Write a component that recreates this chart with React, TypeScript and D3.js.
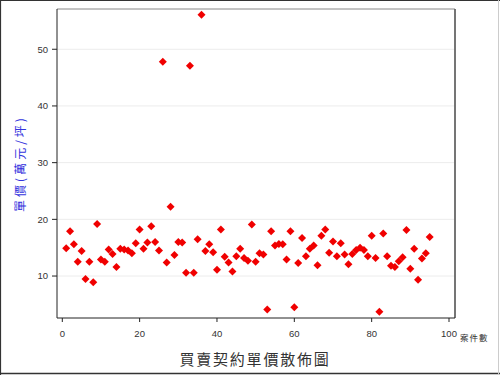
import React from "react";
import * as d3 from "d3";

const caseNumbers: number[] = d3.range(1, 96);
const unitPrices: number[] = [
  14.9, 17.9, 15.6, 12.5, 14.4, 9.5, 12.5, 8.9, 19.2, 12.9,
  12.5, 14.7, 13.9, 11.6, 14.8, 14.7, 14.5, 14.0, 15.8, 18.2,
  14.8, 15.9, 18.8, 16.0, 14.5, 47.8, 12.4, 22.2, 13.7, 16.0,
  15.9, 10.6, 47.1, 10.6, 16.5, 56.1, 14.4, 15.6, 14.2, 11.1,
  18.2, 13.4, 12.4, 10.8, 13.5, 14.8, 13.2, 12.7, 19.1, 12.5,
  14.0, 13.8, 4.1, 17.9, 15.4, 15.65, 15.6, 12.9, 17.9, 4.5,
  12.3, 16.7, 13.5, 14.8, 15.4, 11.9, 17.1, 18.2, 14.1, 16.1,
  13.5, 15.8, 13.8, 12.1, 13.9, 14.6, 15.0, 14.6, 13.5, 17.1,
  13.2, 3.7, 17.5, 13.5, 11.8, 11.6, 12.6, 13.3, 18.1, 11.3,
  14.8, 9.35, 13.1, 14.0, 16.9,
];
const xTicks: number[] = [0, 20, 40, 60, 80, 100];
const yTicks: number[] = [10, 20, 30, 40, 50];
const title = "買賣契約單價散佈圖";
const yLabel = "單價(萬元/坪)";
const xLabel = "案件數";

const W = 500;
const H = 375;
const L = 57, R = 455, T = 9, B = 318;

export default function App() {
  const x = d3.scaleLinear().domain([-1.37, 101.55]).range([L, R]);
  const y = d3.scaleLinear().domain([2.6, 57.1]).range([B, T]);
  const diamond = d3.symbol().type(d3.symbolSquare).size(32)();
  const axisFont = "'Liberation Sans', Arial, sans-serif";
  const cjkFont = "'Noto Sans CJK TC', 'Noto Sans CJK SC', sans-serif";
  return (
    <div style={{ position: "absolute", left: 0, top: 0 }}>
      <svg width={W} height={H} style={{ display: "block", background: "#fff" }}>
        <rect x={0} y={0} width={W} height={H} fill="#fff" />
        {/* outer frame */}
        <line x1={0} y1={0.5} x2={W} y2={0.5} stroke="#333" strokeWidth={1.2} />
        <line x1={0.5} y1={0} x2={0.5} y2={H} stroke="#333" strokeWidth={1.2} />
        <line x1={0} y1={H - 1.5} x2={W} y2={H - 1.5} stroke="#333" strokeWidth={1.5} />
        <line x1={W - 1.5} y1={0} x2={W - 1.5} y2={H} stroke="#ccc" strokeWidth={1} />
        {/* grid */}
        {yTicks.map((t) => (
          <line key={"g" + t} x1={L} x2={R} y1={y(t)} y2={y(t)} stroke="#ececec" strokeWidth={1} />
        ))}
        {/* plot frame */}
        <line x1={L} y1={T} x2={R} y2={T} stroke="#888" strokeWidth={1} />
        <line x1={R} y1={T} x2={R} y2={B} stroke="#666" strokeWidth={1.8} />
        <line x1={L} y1={T} x2={L} y2={B} stroke="#222" strokeWidth={1} />
        <line x1={L} y1={B} x2={R} y2={B} stroke="#222" strokeWidth={1} />
        {/* y ticks */}
        {yTicks.map((t) => (
          <g key={"y" + t}>
            <line x1={L - 5} x2={L} y1={y(t)} y2={y(t)} stroke="#222" />
            <text x={L - 9} y={y(t)} dy="0.35em" textAnchor="end" fontSize={9.5} fontFamily={axisFont} fill="#333">
              {t}
            </text>
          </g>
        ))}
        {/* x ticks */}
        {xTicks.map((t) => (
          <g key={"x" + t}>
            <line x1={x(t)} x2={x(t)} y1={B} y2={B + 4} stroke="#222" />
            <text x={x(t)} y={B + 19} textAnchor="middle" fontSize={9.5} fontFamily={axisFont} fill="#333">
              {t}
            </text>
          </g>
        ))}
        {/* points */}
        {unitPrices.map((v, i) => (
          <path
            key={"p" + i}
            d={diamond || ""}
            transform={`translate(${x(caseNumbers[i])},${y(v)}) rotate(45)`}
            fill="#f00000"
          />
        ))}
        {/* labels */}
        <text
          transform={`translate(21,${(T + B) / 2}) rotate(-90)`}
          textAnchor="middle"
          dy="0.35em"
          fontSize={12}
          letterSpacing={3}
          fontFamily={cjkFont}
          fill="#3333dd"
        >
          {yLabel}
        </text>
        <text x={460} y={341} fontSize={8.5} letterSpacing={1} fontFamily={cjkFont} fill="#333">
          {xLabel}
        </text>
        <text x={255} y={365} textAnchor="middle" fontSize={15} letterSpacing={1.8} fontFamily={cjkFont} fill="#333">
          {title}
        </text>
      </svg>
    </div>
  );
}
